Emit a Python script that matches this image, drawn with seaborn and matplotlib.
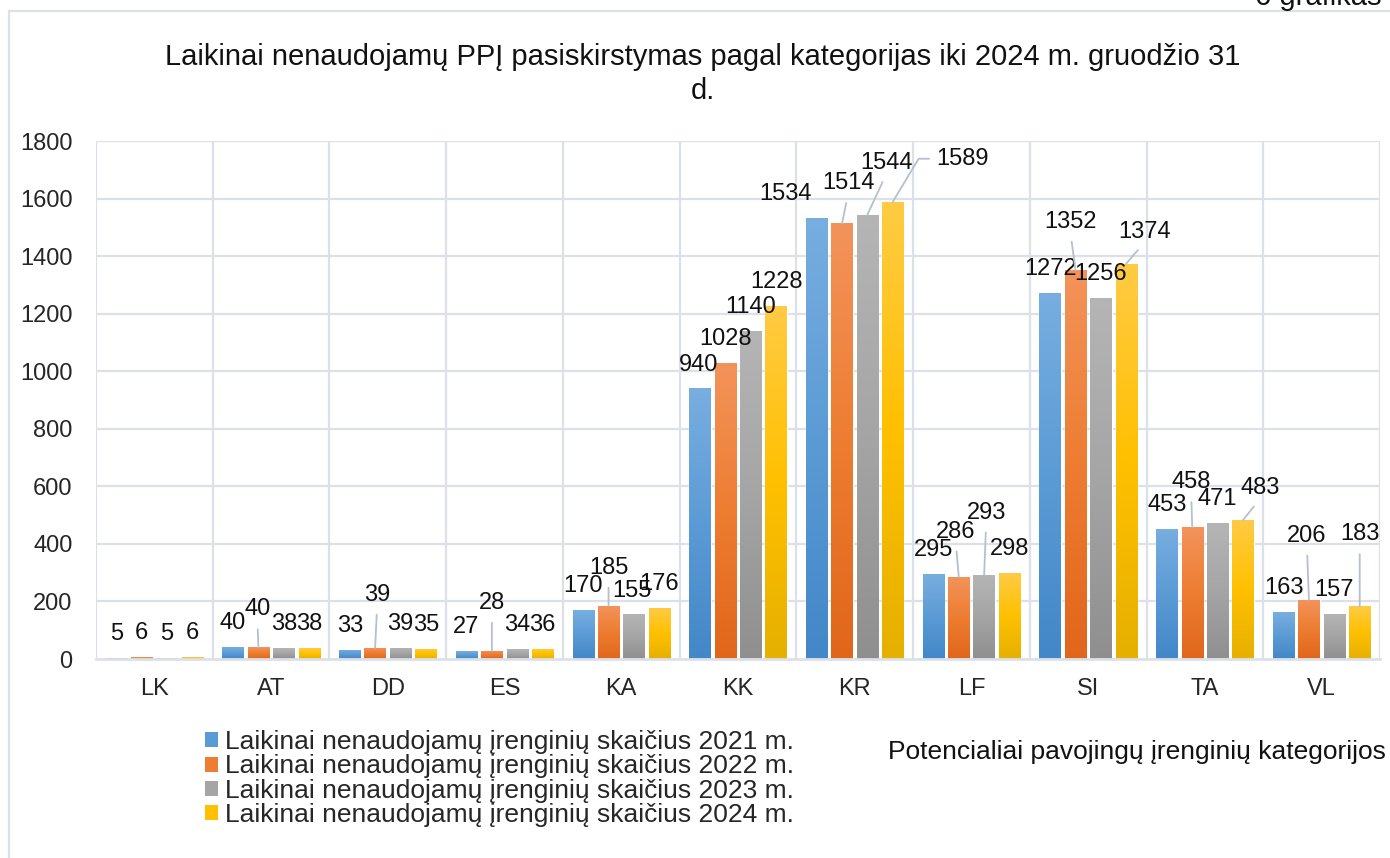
import numpy as np
import pandas as pd
import matplotlib
matplotlib.use("Agg")
import matplotlib.pyplot as plt
import seaborn as sns
from matplotlib.colors import LinearSegmentedColormap
from matplotlib.patches import Rectangle, Patch

# ---------------- data ----------------
categories = ["LK", "AT", "DD", "ES", "KA", "KK", "KR", "LF", "SI", "TA", "VL"]
series_names = [
    "Laikinai nenaudojamų įrenginių skaičius 2021 m.",
    "Laikinai nenaudojamų įrenginių skaičius 2022 m.",
    "Laikinai nenaudojamų įrenginių skaičius 2023 m.",
    "Laikinai nenaudojamų įrenginių skaičius 2024 m.",
]
values_2021 = [5, 40, 33, 27, 170, 940, 1534, 295, 1272, 453, 163]
values_2022 = [6, 40, 39, 28, 185, 1028, 1514, 286, 1352, 458, 206]
values_2023 = [5, 38, 39, 34, 155, 1140, 1544, 293, 1256, 471, 157]
values_2024 = [6, 38, 35, 36, 176, 1228, 1589, 298, 1374, 483, 183]
y_ticks = [0, 200, 400, 600, 800, 1000, 1200, 1400, 1600, 1800]

title_text = "Laikinai nenaudojamų PPĮ pasiskirstymas pagal kategorijas iki 2024 m. gruodžio 31\nd."
xlabel_text = "Potencialiai pavojingų įrenginių kategorijos"
corner_text = "6 grafikas"

# ---------------- styling ----------------
base_colors = ["#5B9BD5", "#ED7D31", "#A5A5A5", "#FFC000"]
light_colors = ["#78AEE0", "#F3935B", "#B5B5B5", "#FFCB45"]
dark_colors = ["#4387C8", "#E0661B", "#8F8F8F", "#E6B000"]
grid_color = "#DCE1E9"
FS = 17          # ticks and data labels
FS_TITLE = 21
FS_LEG = 19

# label placement (pixel offsets of label centre from the bar top), (category, series) -> (dx, dy, leader)
DEFAULT_OFF = (0, 24)
label_offsets = {
    (1, 1): (-1, 38, True),
    (2, 1): (2, 53, True),
    (3, 1): (0, 48, True),
    (4, 1): (0, 38, True),
    (4, 2): (-2, 23, False),
    (5, 0): (-1, 23, False),
    (6, 0): (-31, 24, False),
    (6, 1): (6, 40, True),
    (6, 2): (19, 52, True),
    (6, 3): (70, 43, "elbow"),
    (7, 1): (-3, 45, True),
    (7, 2): (2, 62, True),
    (8, 1): (-5, 48, True),
    (8, 3): (18, 32, True),
    (9, 1): (-1, 45, True),
    (9, 3): (17, 32, True),
    (10, 1): (-2, 64, True),
    (10, 3): (0, 72, True),
}

sns.set_theme(style="white")
plt.rcParams["font.family"] = ["Liberation Sans", "DejaVu Sans"]

df = pd.DataFrame({
    "cat": categories * 4,
    "series": sum([[s] * len(categories) for s in series_names], []),
    "val": values_2021 + values_2022 + values_2023 + values_2024,
})

fig = plt.figure(figsize=(13.9, 8.58), dpi=100)
W, H = 1390, 858
ax = fig.add_axes([96 / W, 1 - 659 / H, (1380 - 96) / W, (659 - 141) / H])

sns.barplot(data=df, x="cat", y="val", hue="series", order=categories,
            hue_order=series_names, palette=base_colors, width=0.87, gap=0.16,
            errorbar=None, ax=ax, legend=False, saturation=1, zorder=3)

# gradient fills
for si, cont in enumerate(ax.containers):
    cmap = LinearSegmentedColormap.from_list(
        f"g{si}", [dark_colors[si], base_colors[si], light_colors[si]])
    grad = np.linspace(0, 1, 256).reshape(-1, 1)
    for p in cont.patches:
        x0, w, h = p.get_x(), p.get_width(), p.get_height()
        im = ax.imshow(grad, cmap=cmap, origin="lower", aspect="auto",
                       extent=[x0, x0 + w, 0, h], zorder=3.5)
        im.set_clip_path(p)

ax.set_xlim(-0.5, len(categories) - 0.5)
ax.set_ylim(0, 1800)
ax.set_yticks(y_ticks)
ax.set_yticklabels([str(t) for t in y_ticks], fontsize=FS)
ax.set_xticks(range(len(categories)))
ax.set_xticklabels(categories, fontsize=FS)
ax.tick_params(axis="y", length=0, pad=17)
ax.tick_params(axis="x", length=0, pad=14)
ax.set_xlabel("")
ax.set_ylabel("")

for s in ["top", "right", "left"]:
    ax.spines[s].set_visible(False)
ax.spines["bottom"].set_color(grid_color)
ax.spines["bottom"].set_linewidth(2)
ax.spines["bottom"].set_zorder(4)

for y in y_ticks[1:]:
    ax.axhline(y, color=grid_color, lw=1.6, zorder=1)
for xb in np.arange(-0.5, len(categories), 1.0):
    ax.axvline(xb, color=grid_color, lw=1.6, zorder=1)

# data labels
all_vals = [values_2021, values_2022, values_2023, values_2024]
for si, cont in enumerate(ax.containers):
    for ci, p in enumerate(cont.patches):
        v = all_vals[si][ci]
        xc = p.get_x() + p.get_width() / 2
        dx, dy, leader = label_offsets.get((ci, si), (*DEFAULT_OFF, False))
        kw = {}
        if leader == "elbow":
            kw["arrowprops"] = dict(arrowstyle="-", color="#B4C0CF", lw=1.3,
                                    relpos=(0, 0.5), shrinkA=3, shrinkB=0,
                                    connectionstyle="angle,angleA=180,angleB=59,rad=0")
        elif leader:
            kw["arrowprops"] = dict(arrowstyle="-", color="#B4C0CF", lw=1.3,
                                    relpos=(0.5, 0), shrinkA=4, shrinkB=0)
        ax.annotate(str(v), xy=(xc, v), xytext=(dx, dy), textcoords="offset pixels",
                    ha="center", va="center", fontsize=FS, color="#111111",
                    zorder=6, **kw)

# title, axis label, corner text
fig.text(703 / W, 1 - 74 / H, title_text, ha="center", va="center",
         fontsize=FS_TITLE, linespacing=1.25, color="#111111")
fig.text(888 / W, 1 - 752 / H, xlabel_text, ha="left", va="center",
         fontsize=FS_LEG, color="#111111")
fig.text(1255 / W, 1 - 5 / H, corner_text, ha="left", va="baseline",
         fontsize=FS_TITLE, color="#111111")

# legend
handles = [Patch(facecolor=c, edgecolor="none") for c in base_colors]
fig.legend(handles, series_names, loc="upper left",
           bbox_to_anchor=(205 / W, 1 - 730 / H), frameon=False, fontsize=FS_LEG,
           handlelength=0.5, handleheight=0.5, handletextpad=0.25,
           labelspacing=0.015, borderaxespad=0, borderpad=0)

# outer chart-area frame
fig.patches.append(Rectangle((9 / W, -0.1), 1.2, 1.1 - 11 / H,
                             transform=fig.transFigure, fill=False,
                             edgecolor=grid_color, lw=1.6, zorder=0))

fig.savefig("out.png", dpi=100)
